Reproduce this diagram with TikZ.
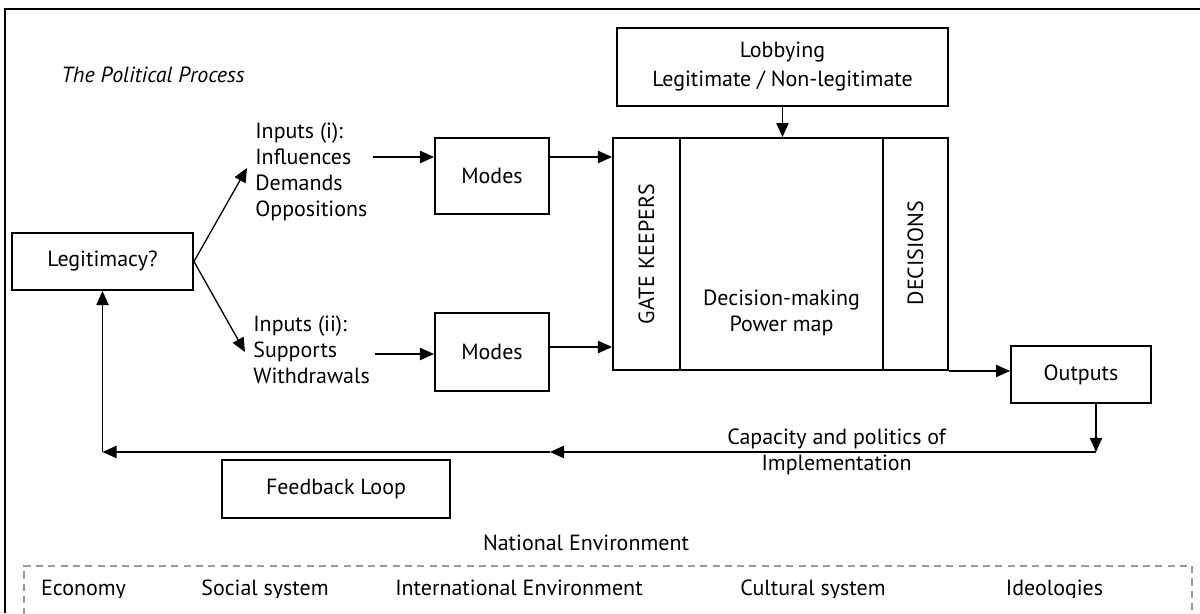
\documentclass[tikz,border=0pt]{standalone}
\usepackage{fontspec}
\setmainfont{PT Sans}
\usetikzlibrary{arrows.meta}

\begin{document}
\begin{tikzpicture}[x=0.02cm,y=-0.02cm,
  font=\fontsize{12.5}{14.7}\selectfont,
  box/.style={draw,line width=1.1pt,inner sep=0pt},
  arr/.style={line width=0.75pt,-{Triangle[length=8pt,width=7pt]}},
  envline/.style={draw=black!40,line width=0.8pt,dash pattern=on 4pt off 3pt},
  env/.style={anchor=base}]
  \useasboundingbox (0,0) rectangle (1200,613);
  %frame and title
  \draw[line width=1.1pt] (5,613) -- (5,9) -- (1200,9);
  \node[anchor=west,inner sep=0pt,font=\fontsize{12.5}{14.7}\selectfont\itshape] (title) at (61,75) {The Political Process};

  %legitimacy and the two inputs
  \node[box,minimum width=3.62cm,minimum height=1.14cm] (legit) at (102.5,261.5) {Legitimacy?};
  \node[anchor=west,align=left,inner sep=0pt] (in1) at (255,172) {Inputs (i):\\Influences\\Demands\\Oppositions};
  \node[anchor=west,align=left,inner sep=0pt] (in2) at (253,350) {Inputs (ii):\\Supports\\Withdrawals};
  \draw[arr] (legit.east) -- ([shift={(-8,-4)}]in1.west);
  \draw[arr] (legit.east) -- ([shift={(-8,2)}]in2.west);

  %modes
  \node[box,minimum width=2.28cm,minimum height=1.52cm] (modesA) at (492,176) {Modes};
  \node[box,minimum width=2.28cm,minimum height=1.56cm] (modesB) at (492,352) {Modes};
  \draw[arr] ([shift={(5,-15)}]in1.east) -- ([shift={(0,-19)}]modesA.west);
  \draw[arr] ([shift={(5,4)}]in2.east) -- ([shift={(0,2)}]modesB.west);

  %decision-making box
  \node[box,minimum width=1.34cm,minimum height=4.64cm] (gate) at (646.5,254) {};
  \node[box,minimum width=4.06cm,minimum height=4.64cm] (dmk) at (781.5,254) {};
  \node[box,minimum width=1.3cm,minimum height=4.64cm] (dec) at (915.5,254) {};
  \node[rotate=90] (gatelab) at (gate.center) {GATE KEEPERS};
  \node[rotate=90] (declab) at ([shift={(0,-1)}]dec.center) {DECISIONS};
  \node[align=center] (dmklab) at (781.5,313) {Decision-making\\Power map};
  \coordinate (aout) at ([shift={(0,-19)}]modesA.east);
  \coordinate (bout) at ([shift={(0,-5)}]modesB.east);
  \draw[arr] (aout) -- (aout -| gate.west);
  \draw[arr] (bout) -- (bout -| gate.west);

  %lobbying
  \node[box,minimum width=6.62cm,minimum height=1.56cm,align=center,font=\fontsize{12.5}{16.5}\selectfont] (lobby) at (782.5,67) {Lobbying\\Legitimate / Non-legitimate};
  \draw[arr] (lobby.south) -- (lobby.south |- dmk.north);

  %outputs and feedback
  \node[box,minimum width=2.8cm,minimum height=1.14cm] (outputs) at (1081,374.5) {Outputs};
  \draw[arr] (dec.south east) -- (dec.south east -| outputs.west);
  \coordinate (impR) at ([shift={(15,48)}]outputs.south);
  \coordinate (impM) at (modesB.east |- impR);
  \coordinate (impL) at (legit.south |- impR);
  \draw[arr] ([shift={(15,0)}]outputs.south) -- (impR);
  \draw[arr] (impR) -- node[pos=0.475,align=center] (implab) {Capacity and politics of\\Implementation} (impM);
  \draw[arr] (impM) -- (impL);
  \draw[arr] (impL) -- (legit.south);
  \node[box,minimum width=4.56cm,minimum height=1.16cm] (fbloop) at (336,489) {Feedback Loop};

  %national environment
  \node (natenv) at (586,543) {National Environment};
  \draw[envline] (24,640) -- (24,566) -- (1192,566) -- (1192,640);
  \begin{scope}
    \clip (0,0) rectangle (1200,597);
    \node[env] (economy) at (83.5,595) {Economy};
    \node[env] (social) at (265,595) {Social system};
    \node[env] (intl) at (519,595) {International Environment};
    \node[env] (cultural) at (813,595) {Cultural system};
    \node[env] (ideol) at (1054.5,595) {Ideologies};
  \end{scope}
\end{tikzpicture}
\end{document}
